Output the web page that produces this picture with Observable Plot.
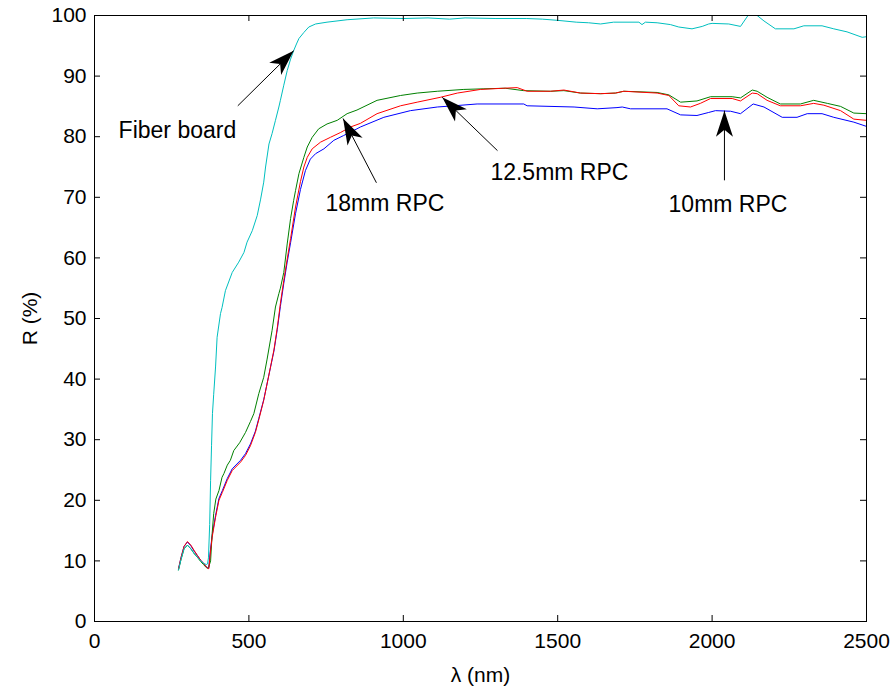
<!DOCTYPE html>
<html><head><meta charset="utf-8">
<script src="https://cdn.jsdelivr.net/npm/d3@7"></script>
<script src="https://cdn.jsdelivr.net/npm/@observablehq/plot@0.6"></script>
<style>body{margin:0;background:#fff}</style>
</head><body><div id="chart"></div>
<script>
const xTicks = [0, 500, 1000, 1500, 2000, 2500];
const yTicks = [0, 10, 20, 30, 40, 50, 60, 70, 80, 90, 100];

// [wavelength nm, reflectance %]
const rpc10 = [[272,8.7],[280,10.5],[290,12.4],[301,13.1],[312,12.5],[323,11.6],[333,10.9],[344,10.1],[353,9.6],[362,9.0],[366,8.9],[370,8.8],[375,11.6],[381,14.2],[392,17.5],[403,20.3],[414,21.6],[430,23.6],[446,25.2],[473,26.6],[489,27.7],[505,29.3],[521,31.4],[532,33.5],[548,36.6],[564,40.5],[581,44.6],[592,48.2],[602,52.0],[613,55.8],[624,59.3],[635,62.5],[651,67.3],[667,71.3],[683,74.4],[699,76.3],[716,77.2],[743,78.0],[775,79.4],[807,80.2],[850,81.3],[861,81.6],[937,83.2],[1023,84.3],[1110,84.9],[1164,85.1],[1239,85.4],[1390,85.4],[1401,85.1],[1553,84.9],[1628,84.6],[1692,84.8],[1709,84.9],[1736,84.6],[1854,84.6],[1898,83.6],[1951,83.5],[1989,84.0],[2011,84.3],[2060,84.2],[2092,83.8],[2133,85.4],[2168,84.9],[2227,83.2],[2275,83.2],[2308,83.8],[2356,83.8],[2394,83.2],[2459,82.4],[2500,81.7]];
const rpc125 = [[272,8.7],[280,10.5],[290,12.4],[301,13.2],[312,12.6],[323,11.7],[333,10.9],[344,10.1],[353,9.6],[362,9.0],[366,8.8],[370,8.7],[375,11.3],[381,13.9],[392,17.2],[403,20.0],[414,21.3],[430,23.3],[446,24.9],[473,26.3],[489,27.4],[505,29.0],[521,31.2],[532,33.3],[548,36.5],[564,40.5],[581,44.8],[592,48.5],[602,52.5],[613,56.3],[624,59.8],[635,63.2],[651,68.4],[667,72.6],[678,75.0],[689,76.6],[705,78.0],[732,79.1],[764,79.9],[797,80.7],[829,81.6],[861,82.2],[915,83.8],[991,85.1],[1045,85.7],[1120,86.5],[1175,87.2],[1250,87.8],[1325,88.0],[1369,88.1],[1401,87.5],[1477,87.5],[1520,87.7],[1574,87.2],[1639,87.1],[1687,87.2],[1714,87.5],[1822,87.2],[1860,86.8],[1892,85.1],[1930,84.9],[1962,85.5],[1995,86.3],[2065,86.3],[2092,85.9],[2130,87.2],[2146,87.1],[2178,86.0],[2221,85.1],[2286,85.1],[2329,85.5],[2362,85.2],[2416,84.3],[2459,82.9],[2500,82.7]];
const rpc18 = [[272,8.5],[280,10.2],[290,12.0],[301,12.6],[312,12.0],[323,11.2],[333,10.6],[344,9.9],[353,9.4],[362,8.9],[366,8.8],[370,9.0],[376,10.0],[381,14.5],[386,17.8],[393,20.2],[403,21.6],[413,23.8],[419,24.4],[430,25.8],[440,26.6],[451,28.2],[470,29.5],[489,31.2],[505,33.0],[516,34.3],[532,37.6],[548,40.3],[559,43.3],[575,48.0],[586,51.9],[597,54.1],[602,55.0],[613,57.6],[624,62.3],[635,66.5],[645,69.5],[651,71.1],[662,73.9],[678,76.6],[689,78.3],[705,79.9],[726,81.3],[753,82.1],[786,82.7],[818,83.8],[850,84.4],[915,86.0],[991,86.8],[1045,87.2],[1110,87.5],[1196,87.8],[1261,87.9],[1330,88.0],[1390,87.6],[1477,87.5],[1520,87.6],[1574,87.2],[1639,87.1],[1687,87.2],[1714,87.5],[1822,87.3],[1860,86.9],[1898,85.7],[1951,85.9],[1995,86.6],[2065,86.6],[2092,86.4],[2130,87.7],[2146,87.5],[2178,86.5],[2221,85.4],[2286,85.4],[2329,86.0],[2373,85.5],[2416,85.0],[2459,83.9],[2500,83.8]];
const fiberBoard = [[272,8.5],[280,10.2],[290,12.0],[301,12.6],[312,12.0],[323,11.2],[333,10.6],[344,10.0],[353,9.6],[362,9.4],[366,9.5],[369,10.5],[373,16.0],[376,23.3],[379,29.0],[382,34.3],[386,37.5],[392,42.0],[397,46.9],[408,50.8],[413,51.8],[424,54.6],[446,57.6],[467,59.3],[484,60.9],[494,62.6],[511,64.5],[527,67.0],[538,69.7],[548,72.5],[554,75.0],[565,78.8],[575,80.5],[586,82.7],[597,84.9],[602,86.0],[613,88.5],[624,90.9],[635,92.8],[645,94.2],[654,95.3],[662,96.2],[678,97.2],[694,98.1],[716,98.6],[753,98.9],[818,99.3],[904,99.6],[1000,99.5],[1080,99.6],[1150,99.4],[1200,99.6],[1300,99.5],[1400,99.5],[1450,99.4],[1500,99.2],[1560,98.9],[1600,98.8],[1639,98.6],[1681,98.9],[1763,98.9],[1773,98.5],[1784,98.9],[1822,98.8],[1865,98.5],[1892,98.1],[1935,97.8],[1968,98.2],[1989,98.6],[2000,98.7],[2054,98.6],[2092,98.2],[2119,100.2],[2141,100.2],[2168,99.1],[2205,97.8],[2265,97.8],[2297,98.3],[2356,98.3],[2394,97.8],[2437,97.3],[2486,96.4],[2500,96.5]];

const seriesData = [rpc10, rpc18, rpc125, fiberBoard];
const seriesColors = ["#0000ff", "#008000", "#ff0000", "#00bfbf"];

const annotationLabels = ["Fiber board", "18mm RPC", "12.5mm RPC", "10mm RPC"];
const annotationTextAt = [[78, 81.0], [748, 69.0], [1282, 74.1], [1859, 68.8]];
const arrowFrom = [[464, 85.1], [913, 72.4], [1305, 77.7], [2040, 72.8]];
const arrowTo = [[645, 94.2], [805, 83.0], [1126, 86.5], [2040, 84.3]];

const texts = annotationLabels.map((t, i) => ({text: t, x: annotationTextAt[i][0], y: annotationTextAt[i][1]}));
const arrows = arrowFrom.map((f, i) => ({x1: f[0], y1: f[1], x2: arrowTo[i][0], y2: arrowTo[i][1]}));

function headMarker(color, context) {
  const doc = (context && context.document) || document;
  const ns = "http://www.w3.org/2000/svg";
  const m = doc.createElementNS(ns, "marker");
  m.setAttribute("viewBox", "-26 -9 27 18");
  m.setAttribute("markerWidth", "27");
  m.setAttribute("markerHeight", "18");
  m.setAttribute("markerUnits", "userSpaceOnUse");
  m.setAttribute("refX", "0");
  m.setAttribute("refY", "0");
  m.setAttribute("orient", "auto");
  const p = doc.createElementNS(ns, "path");
  p.setAttribute("d", "M0,0L-26,-8.5L-19,0L-26,8.5Z");
  p.setAttribute("fill", "black");
  p.setAttribute("stroke", "none");
  m.appendChild(p);
  return m;
}

const W = 892, H = 690, ML = 94, MR = 26, MT = 15, MB = 69, TICK = 6;
const X0 = 0, X1 = 2500, Y0 = 0, Y1 = 100;
// tick length expressed in data units of each scale
const tickDX = (X1 - X0) * TICK / (W - ML - MR);
const tickDY = (Y1 - Y0) * TICK / (H - MT - MB);

const lineMarks = seriesData.map((s, i) =>
  Plot.line(s, {x: d => d[0], y: d => d[1], stroke: seriesColors[i], strokeWidth: 1, clip: true}));

const chart = Plot.plot({
  width: W, height: H,
  marginLeft: ML, marginRight: MR, marginTop: MT, marginBottom: MB,
  style: {fontFamily: "'Liberation Sans', Arial, sans-serif", fontSize: "21px", background: "white", color: "black"},
  x: {domain: [X0, X1]},
  y: {domain: [Y0, Y1]},
  marks: [
    ...lineMarks,
    Plot.frame({stroke: "black", strokeWidth: 1}),
    Plot.axisX({ticks: xTicks, anchor: "bottom", tickSize: 0, tickPadding: 12, tickFormat: d => String(d), label: "λ (nm)", labelAnchor: "center", labelArrow: "none", labelOffset: 60}),
    Plot.axisY({ticks: yTicks, anchor: "left", tickSize: 0, tickPadding: 8, tickFormat: d => String(d), label: "R (%)", labelAnchor: "center", labelArrow: "none", labelOffset: 72}),
    // inward tick marks on all four sides
    Plot.ruleX(xTicks, {x: d => d, y1: Y0, y2: Y0 + tickDY, stroke: "black", strokeWidth: 1}),
    Plot.ruleX(xTicks, {x: d => d, y1: Y1, y2: Y1 - tickDY, stroke: "black", strokeWidth: 1}),
    Plot.ruleY(yTicks, {y: d => d, x1: X0, x2: X0 + tickDX, stroke: "black", strokeWidth: 1}),
    Plot.ruleY(yTicks, {y: d => d, x1: X1, x2: X1 - tickDX, stroke: "black", strokeWidth: 1}),
    Plot.link(arrows, {x1: "x1", y1: "y1", x2: "x2", y2: "y2", stroke: "black", strokeWidth: 1, markerEnd: headMarker}),
    Plot.text(texts, {x: "x", y: "y", text: "text", textAnchor: "start", fontSize: 23})
  ]
});
document.getElementById("chart").appendChild(chart);
</script>
</body></html>
